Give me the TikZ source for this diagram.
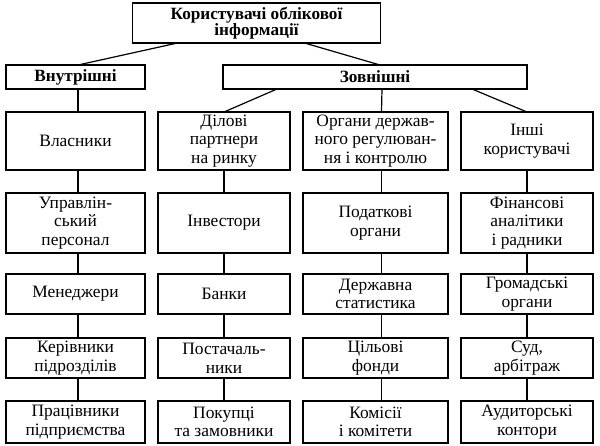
\documentclass[tikz,border=0pt]{standalone}
\usepackage{fontspec}
\setmainfont{Liberation Serif}

\tikzset{
	userbox/.style={draw, line width=0.6pt, inner sep=0pt, outer sep=0pt, align=center, font=\fontsize{8.7}{9.3}\selectfont},
	groupbox/.style={userbox, font=\fontsize{8.6}{8.3}\selectfont\bfseries},
}

\begin{document}
\begin{tikzpicture}[x=0.5pt, y=-0.5pt, line width=0.6pt]
	\useasboundingbox (0,0) rectangle (600,445);

	% heads
	\node[groupbox, minimum width=124pt, minimum height=20pt] (users) at (256.5,23) {Користувачі облікової\\інформації};
	\node[groupbox, minimum width=69.5pt, minimum height=12pt] (internal) at (75.5,77) {Внутрішні};
	\node[groupbox, minimum width=152pt, minimum height=12pt] (external) at (375,77) {Зовнішні};

	% internal users
	\begin{scope}[every node/.style={userbox, minimum width=69.5pt}]
		\node[minimum height=29pt] (a1) at (75.5,141) {Власники};
		\node[minimum height=30pt] (a2) at (75.5,223) {Управлін-\\ський\\персонал};
		\node[minimum height=20pt] (a3) at (75.5,294) {Менеджери};
		\node[minimum height=20pt] (a4) at (75.5,358) {Керівники\\підрозділів};
		\node[minimum height=21pt] (a5) at (75.5,422) {Працівники\\підприємства};
	\end{scope}

	% business partners
	\begin{scope}[every node/.style={userbox, minimum width=66pt}]
		\node[minimum height=29pt] (b1) at (224,141) {Ділові\\партнери\\на ринку};
		\node[minimum height=30pt] (b2) at (224,223) {Інвестори};
		\node[minimum height=20pt] (b3) at (224,294) {Банки};
		\node[minimum height=20pt] (b4) at (224,358) {Постачаль-\\ники};
		\node[minimum height=21pt] (b5) at (224,422) {Покупці\\та замовники};
	\end{scope}

	% state bodies
	\begin{scope}[every node/.style={userbox, minimum width=72.5pt}]
		\node[minimum height=29pt] (c1) at (375.5,141) {Органи держав-\\ного регулюван-\\ня і контролю};
		\node[minimum height=30pt] (c2) at (375.5,223) {Податкові\\органи};
		\node[minimum height=20pt] (c3) at (375.5,294) {Державна\\статистика};
		\node[minimum height=20pt] (c4) at (375.5,358) {Цільові\\фонди};
		\node[minimum height=21pt] (c5) at (375.5,422) {Комісії\\і комітети};
	\end{scope}

	% other users
	\begin{scope}[every node/.style={userbox, minimum width=66pt}]
		\node[minimum height=29pt] (d1) at (527,141) {Інші\\користувачі};
		\node[minimum height=30pt] (d2) at (527,223) {Фінансові\\аналітики\\і радники};
		\node[minimum height=20pt] (d3) at (527,294) {Громадські\\органи};
		\node[minimum height=20pt] (d4) at (527,358) {Суд,\\арбітраж};
		\node[minimum height=21pt] (d5) at (527,422) {Аудиторські\\контори};
	\end{scope}

	% links
	\draw ([xshift=22.5pt]users.south west) -- ([xshift=1.25pt]internal.north);
	\draw ([xshift=-38pt]users.south east) -- ([xshift=2.5pt]external.north);
	\draw ([xshift=1.25pt]internal.south) -- ([xshift=1.25pt]a1.north);
	\draw ([xshift=27pt]external.south west) -- (b1.north);
	\draw ([xshift=3.5pt]external.south) -- ([xshift=3pt]c1.north);
	\draw ([xshift=-27.5pt]external.south east) -- (d1.north);

	\foreach \c/\dx in {a/1.25pt, b/0pt, c/3pt, d/0pt}
		\foreach \r/\s in {1/2,2/3,3/4,4/5}
			\draw ([xshift=\dx]\c\r.south) -- ([xshift=\dx]\c\s.north);

\end{tikzpicture}
\end{document}
